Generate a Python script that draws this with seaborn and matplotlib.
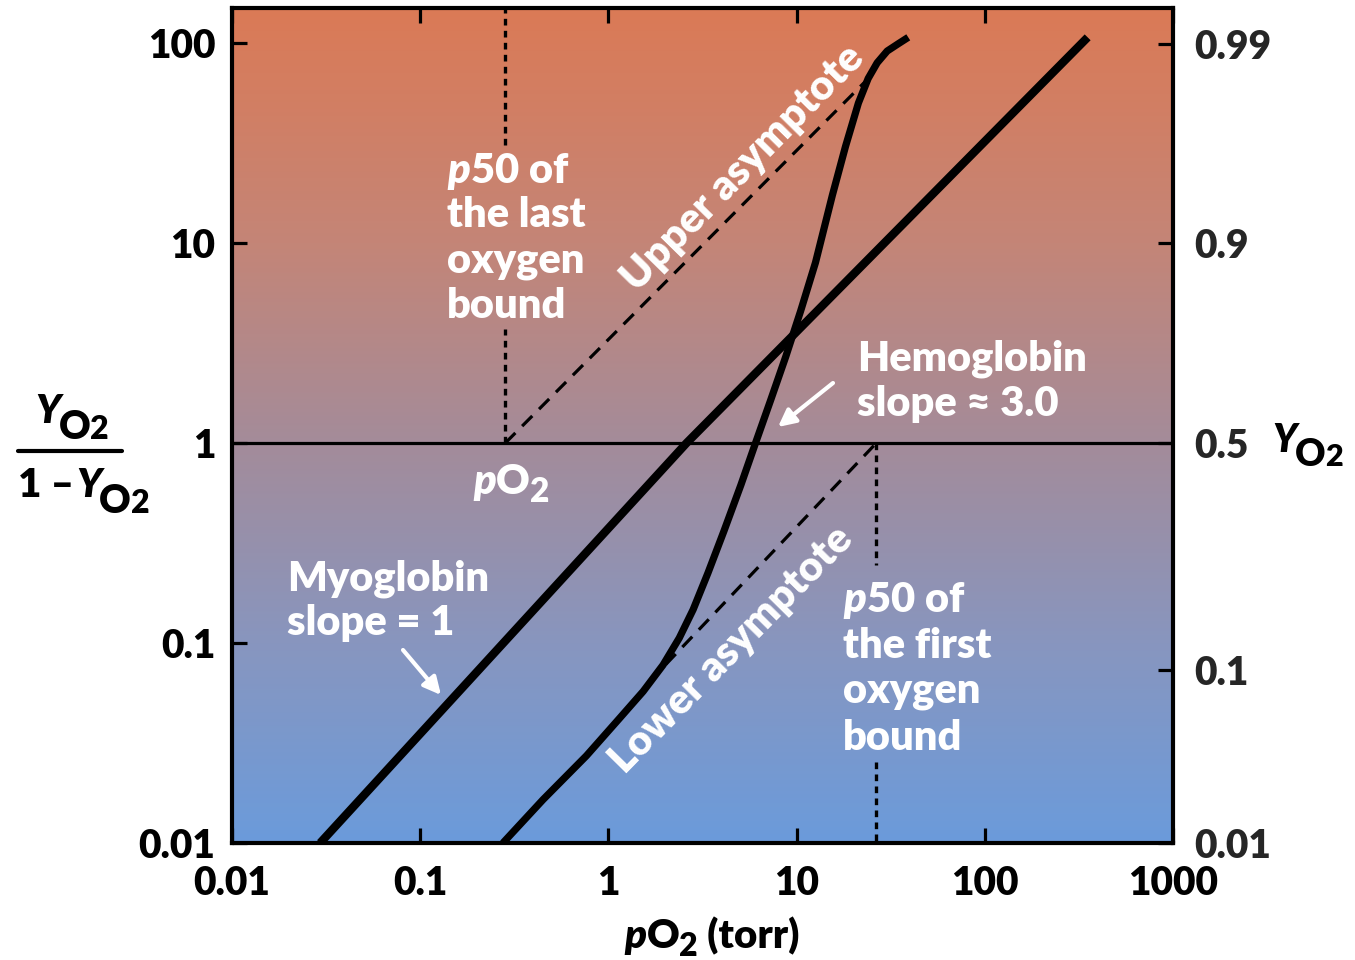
import numpy as np
import pandas as pd
import matplotlib
matplotlib.use("Agg")
import matplotlib.pyplot as plt
import seaborn as sns
from matplotlib.colors import LinearSegmentedColormap
from matplotlib.ticker import NullLocator, FixedLocator, FixedFormatter
from matplotlib.transforms import IdentityTransform

# ---------------- data ----------------
x_ticks = [0.01, 0.1, 1, 10, 100, 1000]
x_tick_labels = ["0.01", "0.1", "1", "10", "100", "1000"]
y_ticks = [0.01, 0.1, 1, 10, 100]
y_tick_labels = ["0.01", "0.1", "1", "10", "100"]
right_tick_pos = [0.01, 0.073, 1, 10, 99]
right_tick_labels = ["0.01", "0.1", "0.5", "0.9", "0.99"]

mb_po2 = [0.0294, 2.6, 352]
mb_ratio = [0.01, 1.0, 107]

hb_po2 = [0.275, 0.450, 0.764, 1.14, 1.53, 1.95, 2.38, 2.82, 3.38, 4.11,
          5.06, 6.07, 7.28, 8.75, 10.5, 12.6, 15.5, 18.2, 21.3, 24.0, 26.8,
          30.3, 34.7, 39.2]
hb_ratio = [0.010, 0.0165, 0.0273, 0.0418, 0.0573, 0.0776, 0.106, 0.147,
            0.224, 0.363, 0.618, 1.01, 1.64, 2.70, 4.57, 8.0, 17.4, 30.5,
            50.2, 66.6, 79.8, 91.4, 99.4, 107]

upper_asym_po2 = [0.283, 23.2]
upper_asym_ratio = [1.0, 64.4]
lower_asym_po2 = [1.65, 26.5]
lower_asym_ratio = [0.064, 1.0]

p50_last = 0.283
p50_last_segments = [(1.0, 3.7), (31.0, 150.0)]
p50_first = 26.5
p50_first_segments = [(1.0, 0.247), (0.0254, 0.01)]

# ---------------- style ----------------
sns.set_theme(style="ticks")
FONT = "Lato"
WEIGHT = "heavy"
plt.rcParams["font.family"] = [FONT, "DejaVu Sans"]
plt.rcParams["font.weight"] = WEIGHT
plt.rcParams["mathtext.fontset"] = "custom"
plt.rcParams["mathtext.rm"] = "Lato:heavy"
plt.rcParams["mathtext.it"] = "Lato:italic:heavy"
plt.rcParams["mathtext.bf"] = "Lato:heavy"

W, H = 1355, 960
fig = plt.figure(figsize=(W / 100, H / 100), dpi=100)
fig.patch.set_facecolor("white")

L, R, T, B = 232, 1173, 8, 843
pos = [L / W, 1 - B / H, (R - L) / W, (B - T) / H]

# background gradient
bg = fig.add_axes(pos, zorder=0)
cmap = LinearSegmentedColormap.from_list(
    "bg", [(0.0, "#6b9bdb"), (0.23, "#8796c0"), (0.465, "#a28c9c"),
           (0.72, "#c48577"), (1.0, "#db7a56")])
bg.imshow(np.linspace(0, 1, 512).reshape(-1, 1), origin="lower", aspect="auto",
          cmap=cmap, extent=[0, 1, 0, 1], interpolation="bilinear")
bg.set_xlim(0, 1)
bg.set_ylim(0, 1)
bg.axis("off")

ax = fig.add_axes(pos, zorder=1)
ax.patch.set_visible(False)
ax.set_xscale("log")
ax.set_yscale("log")
ax.set_xlim(0.01, 1000)
ax.set_ylim(0.01, 150)

# curves
sns.lineplot(x=mb_po2, y=mb_ratio, ax=ax, color="black", lw=6.0, sort=False,
             estimator=None, solid_capstyle="butt")
sns.lineplot(x=hb_po2, y=hb_ratio, ax=ax, color="black", lw=5.2, sort=False,
             estimator=None, solid_capstyle="butt", solid_joinstyle="round")

ax.plot(upper_asym_po2, upper_asym_ratio, color="black", lw=2.3,
        linestyle=(0, (4.5, 3.0)))
ax.plot(lower_asym_po2, lower_asym_ratio, color="black", lw=2.3,
        linestyle=(0, (4.5, 3.0)))
for a, b in p50_last_segments:
    ax.plot([p50_last, p50_last], [a, b], color="black", lw=2.4,
            linestyle=(0, (2.0, 1.6)))
for a, b in p50_first_segments:
    ax.plot([p50_first, p50_first], [a, b], color="black", lw=2.4,
            linestyle=(0, (2.0, 1.6)))
ax.axhline(1.0, color="black", lw=2.3)

# axes styling
for sp in ax.spines.values():
    sp.set_linewidth(3.0)
    sp.set_color("black")
ax.xaxis.set_major_locator(FixedLocator(x_ticks))
ax.xaxis.set_major_formatter(FixedFormatter(x_tick_labels))
ax.yaxis.set_major_locator(FixedLocator(y_ticks))
ax.yaxis.set_major_formatter(FixedFormatter(y_tick_labels))
ax.xaxis.set_minor_locator(NullLocator())
ax.yaxis.set_minor_locator(NullLocator())
ax.tick_params(axis="both", which="major", direction="in", length=11, width=2.3,
               color="black", labelsize=28, labelcolor="black")
ax.tick_params(axis="x", top=True, labeltop=False, pad=16)
ax.tick_params(axis="y", left=True, right=False, pad=12)
for lab in ax.get_xticklabels() + ax.get_yticklabels():
    lab.set_fontweight(WEIGHT)

tw = ax.twinx()
tw.set_yscale("log")
tw.set_ylim(ax.get_ylim())
tw.yaxis.set_major_locator(FixedLocator(right_tick_pos))
tw.yaxis.set_major_formatter(FixedFormatter(right_tick_labels))
tw.yaxis.set_minor_locator(NullLocator())
tw.tick_params(axis="y", direction="in", length=11, width=2.3, color="black",
               labelsize=28, pad=15)
for sp in tw.spines.values():
    sp.set_visible(False)
for lab in tw.get_yticklabels():
    lab.set_fontweight(WEIGHT)

# ---------------- text helpers (pixel coordinates, origin top-left) -----------
ID = IdentityTransform()
renderer = fig.canvas.get_renderer()
WS = 30  # white label size


def ptext(x, y, s, size=WS, color="white", **kw):
    kw.setdefault("ha", "left")
    kw.setdefault("va", "baseline")
    return fig.text(x, H - y, s, fontsize=size, color=color, fontweight=WEIGHT,
                    transform=ID, zorder=5, **kw)


def rich(x, y, pieces, color="black", align="left"):
    texts, widths = [], []
    for s, size, style, dy, dx in pieces:
        t = fig.text(0, 0, s, fontsize=size, fontstyle=style, fontweight=WEIGHT,
                     color=color, ha="left", va="baseline", transform=ID,
                     zorder=5)
        texts.append(t)
        widths.append(t.get_window_extent(renderer).width + dx)
    total = sum(widths)
    cx = x - total / 2 if align == "center" else x
    for t, w, p in zip(texts, widths, pieces):
        t.set_position((cx, H - (y + p[3])))
        cx += w


# white annotations
ptext(447, 183, r"$\mathit{p}$50 of")
ptext(447, 227, "the last")
ptext(447, 273, "oxygen")
ptext(447, 318, "bound")

ptext(843, 612, r"$\mathit{p}$50 of")
ptext(843, 658, "the first")
ptext(843, 702, "oxygen")
ptext(843, 750, "bound")

ptext(857, 371, "Hemoglobin")
ptext(857, 416, "slope \u2248 3.0")
ptext(287, 590, "Myoglobin")
ptext(287, 635, "slope = 1")

fig.text(743, H - 168, "Upper asymptote", fontsize=WS, color="white",
         fontweight=WEIGHT, rotation=45.5, rotation_mode="anchor", ha="center",
         va="center", transform=ID, zorder=5)
fig.text(731, H - 650, "Lower asymptote", fontsize=WS, color="white",
         fontweight=WEIGHT, rotation=45.5, rotation_mode="anchor", ha="center",
         va="center", transform=ID, zorder=5)

rich(473, 494, [("p", WS, "italic", 0, 0), ("O", WS, "normal", 0, 0),
                ("2", 24, "normal", 8, 0)], color="white")

arrow_kw = dict(arrowstyle="-|>", color="white", lw=3, mutation_scale=26,
                shrinkA=0, shrinkB=0)
ax.annotate("", xy=(441, H - 695), xycoords="figure pixels",
            xytext=(403, H - 650), textcoords="figure pixels",
            arrowprops=arrow_kw, zorder=5)
ax.annotate("", xy=(778, H - 427), xycoords="figure pixels",
            xytext=(833, H - 383), textcoords="figure pixels",
            arrowprops=arrow_kw, zorder=5)

# axis labels
rich(712, 948, [("p", 29, "italic", 0, 0), ("O", 29, "normal", 0, 0),
                ("2", 23, "normal", 8, 0), (" (torr)", 29, "normal", 0, 0)],
     align="center")

YO2 = [("Y", 29, "italic", 0, -2), ("O", 28, "normal", 16, 0),
       ("2", 23, "normal", 16, 0)]
rich(72, 423, YO2, align="center")
fig.add_artist(plt.Line2D([18, 122], [H - 451, H - 451], color="black", lw=3.0,
                          transform=ID))
rich(18, 497, [("1 \u2013", 29, "normal", 0, 2)] + YO2)
rich(1272, 452, [("Y", 28, "italic", 0, -2), ("O", 27, "normal", 14, 0),
                 ("2", 22, "normal", 14, 0)])

fig.savefig("out.png", dpi=100)
